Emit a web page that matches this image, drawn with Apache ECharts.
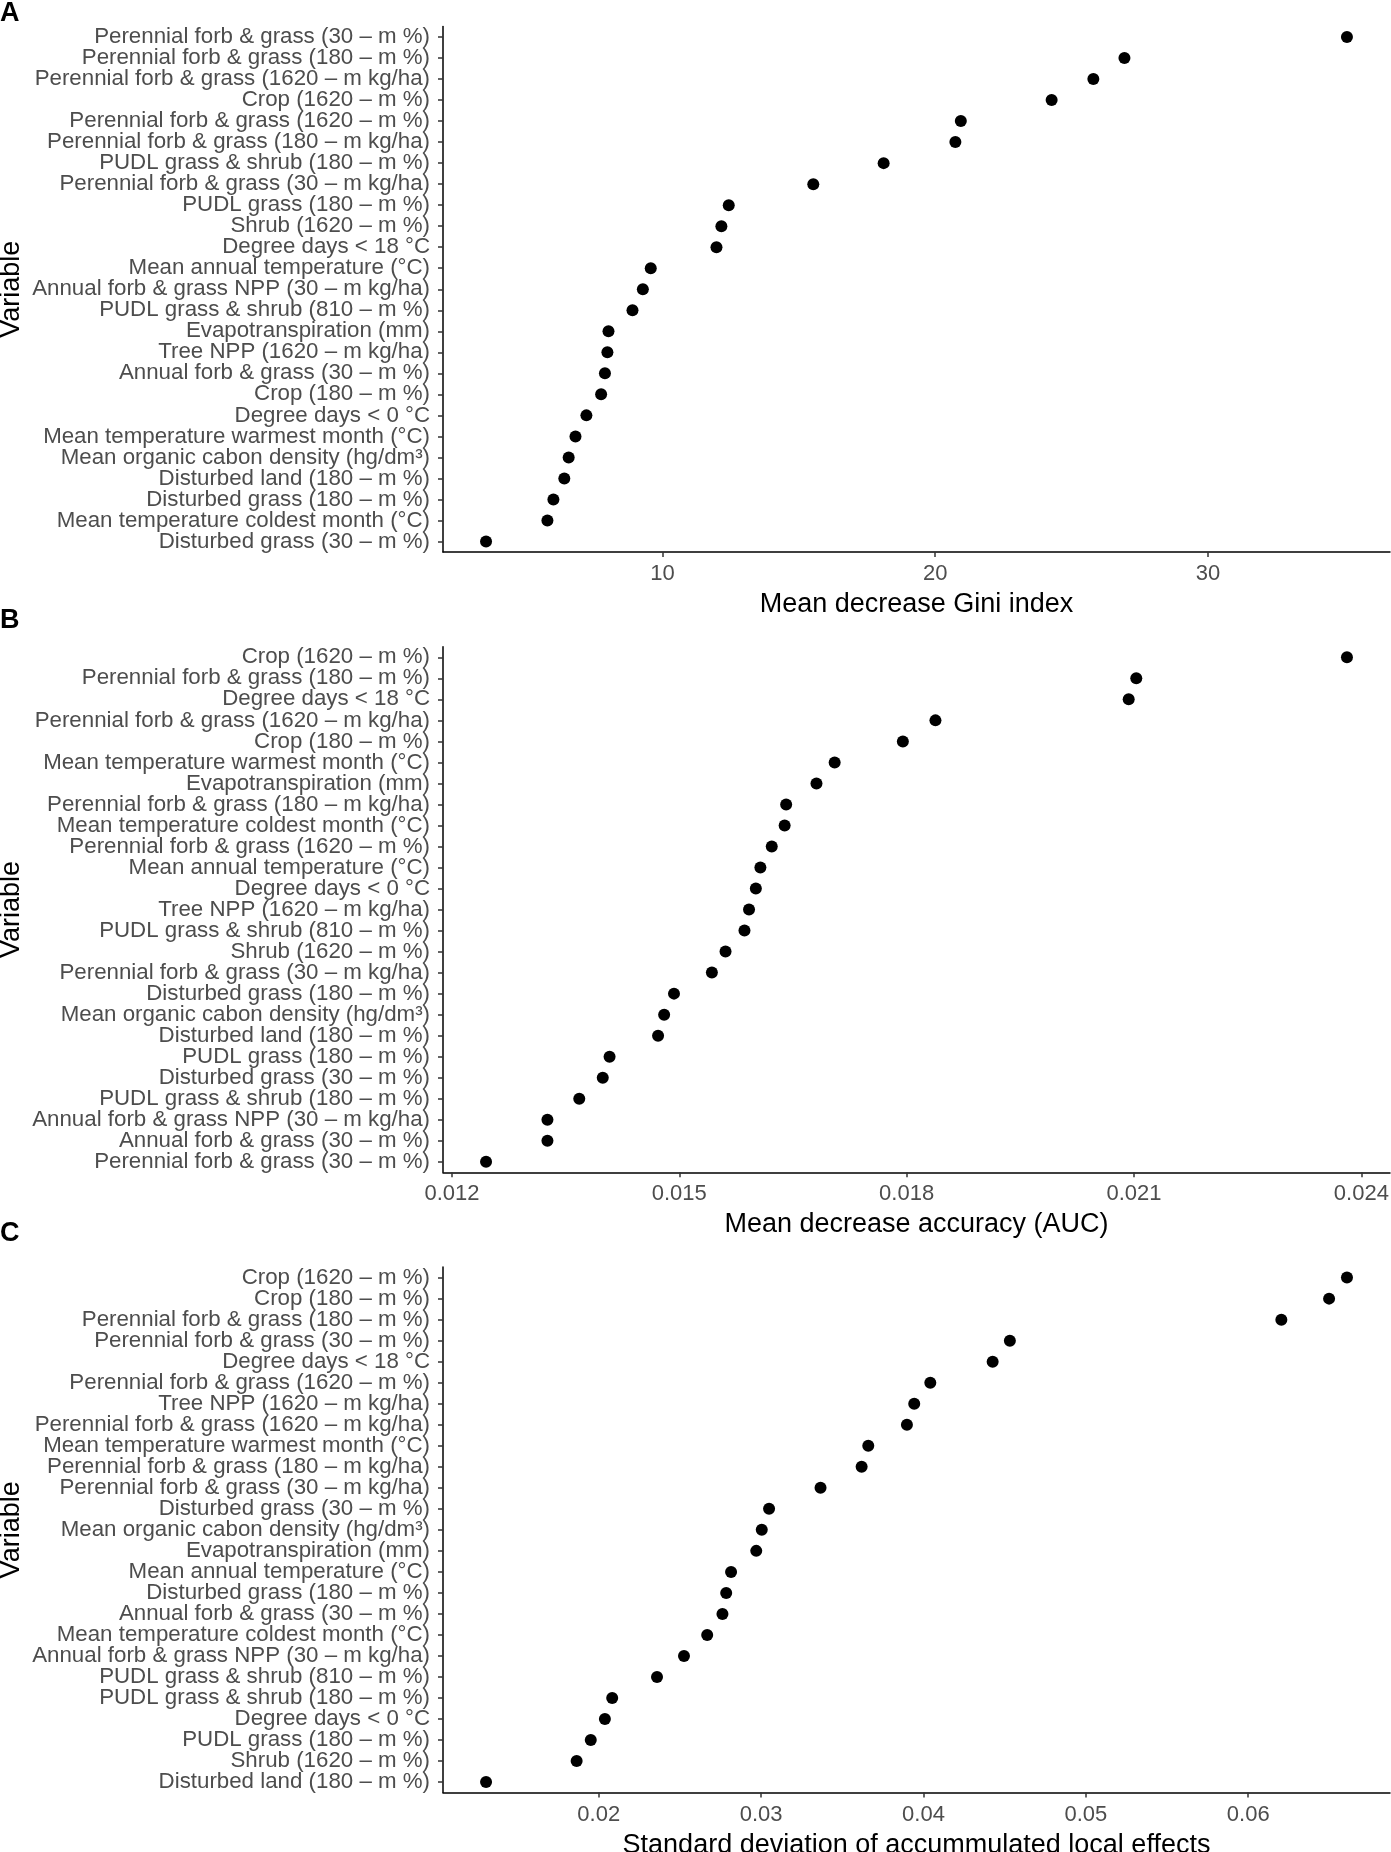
<!DOCTYPE html>
<html>
<head>
<meta charset="utf-8">
<script src="https://cdn.jsdelivr.net/npm/echarts@6/dist/echarts.min.js"></script>
<style>
html,body{margin:0;padding:0;background:#fff;}
#chart{width:1391px;height:1852px;}
</style>
</head>
<body>
<div id="chart"></div>
<script>
// Panel A: Mean decrease Gini index
var catsA = [
"Perennial forb & grass (30 – m %)",
"Perennial forb & grass (180 – m %)",
"Perennial forb & grass (1620 – m kg/ha)",
"Crop (1620 – m %)",
"Perennial forb & grass (1620 – m %)",
"Perennial forb & grass (180 – m kg/ha)",
"PUDL grass & shrub (180 – m %)",
"Perennial forb & grass (30 – m kg/ha)",
"PUDL grass (180 – m %)",
"Shrub (1620 – m %)",
"Degree days < 18 °C",
"Mean annual temperature (°C)",
"Annual forb & grass NPP (30 – m kg/ha)",
"PUDL grass & shrub (810 – m %)",
"Evapotranspiration (mm)",
"Tree NPP (1620 – m kg/ha)",
"Annual forb & grass (30 – m %)",
"Crop (180 – m %)",
"Degree days < 0 °C",
"Mean temperature warmest month (°C)",
"Mean organic cabon density (hg/dm³)",
"Disturbed land (180 – m %)",
"Disturbed grass (180 – m %)",
"Mean temperature coldest month (°C)",
"Disturbed grass (30 – m %)"
];
var giniA = [35.10,26.94,25.80,24.27,20.94,20.74,18.11,15.53,12.43,12.16,11.98,9.57,9.28,8.90,8.02,7.98,7.89,7.75,7.21,6.81,6.56,6.40,6.00,5.78,3.53];
var ticksA = [10,20,30];

// Panel B: Mean decrease accuracy (AUC)
var catsB = [
"Crop (1620 – m %)",
"Perennial forb & grass (180 – m %)",
"Degree days < 18 °C",
"Perennial forb & grass (1620 – m kg/ha)",
"Crop (180 – m %)",
"Mean temperature warmest month (°C)",
"Evapotranspiration (mm)",
"Perennial forb & grass (180 – m kg/ha)",
"Mean temperature coldest month (°C)",
"Perennial forb & grass (1620 – m %)",
"Mean annual temperature (°C)",
"Degree days < 0 °C",
"Tree NPP (1620 – m kg/ha)",
"PUDL grass & shrub (810 – m %)",
"Shrub (1620 – m %)",
"Perennial forb & grass (30 – m kg/ha)",
"Disturbed grass (180 – m %)",
"Mean organic cabon density (hg/dm³)",
"Disturbed land (180 – m %)",
"PUDL grass (180 – m %)",
"Disturbed grass (30 – m %)",
"PUDL grass & shrub (180 – m %)",
"Annual forb & grass NPP (30 – m kg/ha)",
"Annual forb & grass (30 – m %)",
"Perennial forb & grass (30 – m %)"
];
var accB = [0.02381,0.02103,0.02093,0.01838,0.01795,0.01705,0.01681,0.01641,0.01639,0.01622,0.01607,0.01601,0.01592,0.01586,0.01561,0.01543,0.01493,0.01480,0.01472,0.01408,0.01399,0.01368,0.01326,0.01326,0.01245];
var ticksB = [0.012,0.015,0.018,0.021,0.024];

// Panel C: SD of accumulated local effects
var catsC = [
"Crop (1620 – m %)",
"Crop (180 – m %)",
"Perennial forb & grass (180 – m %)",
"Perennial forb & grass (30 – m %)",
"Degree days < 18 °C",
"Perennial forb & grass (1620 – m %)",
"Tree NPP (1620 – m kg/ha)",
"Perennial forb & grass (1620 – m kg/ha)",
"Mean temperature warmest month (°C)",
"Perennial forb & grass (180 – m kg/ha)",
"Perennial forb & grass (30 – m kg/ha)",
"Disturbed grass (30 – m %)",
"Mean organic cabon density (hg/dm³)",
"Evapotranspiration (mm)",
"Mean annual temperature (°C)",
"Disturbed grass (180 – m %)",
"Annual forb & grass (30 – m %)",
"Mean temperature coldest month (°C)",
"Annual forb & grass NPP (30 – m kg/ha)",
"PUDL grass & shrub (810 – m %)",
"PUDL grass & shrub (180 – m %)",
"Degree days < 0 °C",
"PUDL grass (180 – m %)",
"Shrub (1620 – m %)",
"Disturbed land (180 – m %)"
];
var aleC = [0.06608,0.06498,0.06204,0.04532,0.04426,0.04042,0.03943,0.03898,0.03660,0.03619,0.03366,0.03049,0.03004,0.02970,0.02815,0.02785,0.02762,0.02668,0.02525,0.02359,0.02083,0.02038,0.01951,0.01864,0.01306];
var ticksC = [0.02,0.03,0.04,0.05,0.06];

var panelLabels = ["A","B","C"];
var xTitles = ["Mean decrease Gini index","Mean decrease accuracy (AUC)","Standard deviation of accummulated local effects"];
var yTitle = "Variable";

var FONT = "Liberation Sans, Arial, Helvetica, sans-serif";
var panels = [
  {cats: catsA, vals: giniA, ticks: ticksA, fmt: function(v){return String(v);}},
  {cats: catsB, vals: accB, ticks: ticksB, fmt: function(v){return v.toFixed(3);}},
  {cats: catsC, vals: aleC, ticks: ticksC, fmt: function(v){return v.toFixed(2);}}
];
var PANEL_H = 620.3;
var GRID_TOP = 26.5;
var GRID_H = 525.5;
var LABEL_TOP = [0, 607, 1220];

var grids = [], xAxes = [], yAxes = [], series = [], titles = [];
panels.forEach(function(p, k){
  var mn = Math.min.apply(null, p.vals), mx = Math.max.apply(null, p.vals);
  var pad = 0.05 * (mx - mn);
  grids.push({left: 443, width: 947, top: GRID_TOP + k * PANEL_H, height: GRID_H, outerBoundsMode: 'none', containLabel: false});
  xAxes.push({
    type: 'value', gridIndex: k, min: mn - pad, max: mx + pad,
    name: xTitles[k], nameLocation: 'middle', nameGap: 39, nameMoveOverlap: false,
    nameTextStyle: {fontFamily: FONT, fontSize: 27, color: '#000'},
    axisLine: {show: true, onZero: false, lineStyle: {color: '#000', width: 1.5}},
    axisTick: {show: true, length: 5, lineStyle: {color: '#333', width: 1.5}, customValues: p.ticks},
    axisLabel: {show: true, margin: 11, fontFamily: FONT, fontSize: 22, color: '#4D4D4D', customValues: p.ticks, formatter: p.fmt},
    splitLine: {show: false}
  });
  yAxes.push({
    type: 'category', gridIndex: k, data: p.cats, inverse: true,
    name: yTitle, nameLocation: 'middle', nameGap: 418, nameRotate: 90, nameMoveOverlap: false,
    nameTextStyle: {fontFamily: FONT, fontSize: 27, color: '#000'},
    axisLine: {show: true, lineStyle: {color: '#000', width: 1.5}},
    axisTick: {show: true, alignWithLabel: true, length: 5, lineStyle: {color: '#333', width: 1.5}},
    axisLabel: {show: true, interval: 0, margin: 13, fontFamily: FONT, fontSize: 22.3, color: '#4D4D4D'},
    splitLine: {show: false}
  });
  series.push({
    type: 'scatter', xAxisIndex: k, yAxisIndex: k,
    symbol: 'circle', symbolSize: 12,
    itemStyle: {color: '#000', opacity: 1},
    emphasis: {disabled: true},
    data: p.vals.map(function(v, i){ return [v, i]; })
  });
  titles.push({text: panelLabels[k], left: 0, top: LABEL_TOP[k],
    textStyle: {fontFamily: FONT, fontSize: 27, fontWeight: 'bold', color: '#000'}, padding: 0});
});

var chart = echarts.init(document.getElementById('chart'), null, {renderer: 'canvas'});
chart.setOption({
  animation: false,
  backgroundColor: '#fff',
  title: titles,
  grid: grids,
  xAxis: xAxes,
  yAxis: yAxes,
  series: series
});
</script>
</body>
</html>
